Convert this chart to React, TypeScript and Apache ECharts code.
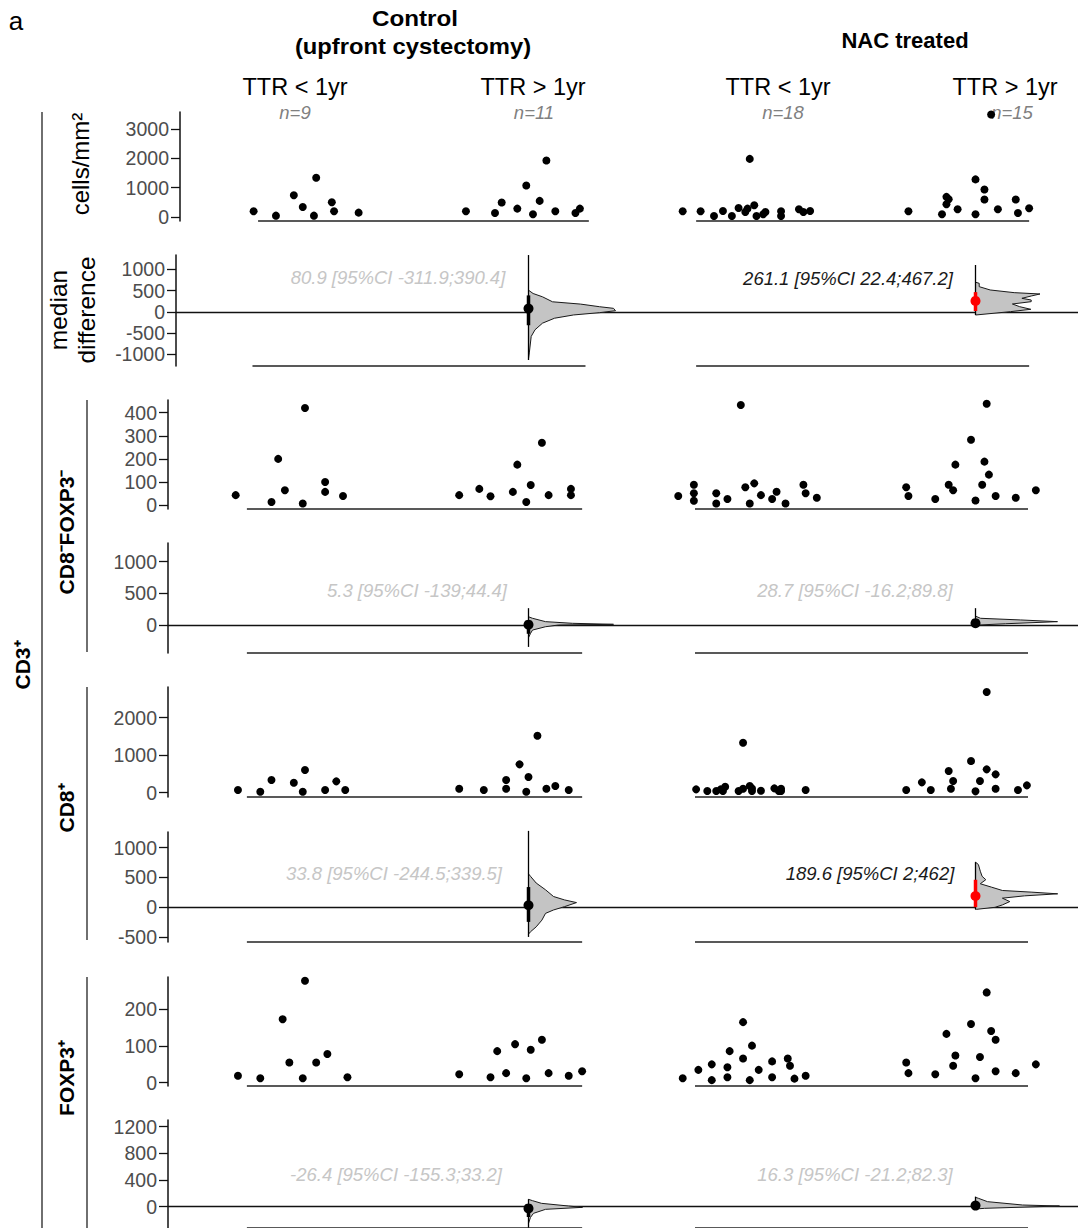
import React, { useEffect, useRef } from "react";
import * as echarts from "echarts";

const FONT = "'Liberation Sans', Arial, Helvetica, sans-serif";

// ---------- DATA ----------
const groupLabels = ["TTR < 1yr", "TTR > 1yr", "TTR < 1yr", "TTR > 1yr"];
const groupCounts = [9, 11, 18, 15];
const panelNames = ["CD8⁻FOXP3⁻", "CD8⁺", "FOXP3⁺"];

// CD3+ cells/mm2 (groups: control <1yr, control >1yr, NAC <1yr, NAC >1yr)
const cd3Values = [
  [195, 46, 744, 344, 46, 1340, 504, 195, 149],
  [195, 137, 492, 286, 1076, 92, 550, 1924, 195, 137, 286],
  [195, 195, 34, 206, 34, 309, 172, 286, 401, 34, 172, 92, 195, 34, 263, 172, 206, 1981],
  [195, 92, 687, 607, 435, 263, 1282, 92, 939, 595, 263, 595, 137, 298, 3492],
];
const cd3Jitter = [
  [-0.23, -0.13, -0.05, -0.01, 0.04, 0.05, 0.12, 0.13, 0.24],
  [-0.28, -0.15, -0.12, -0.05, -0.01, 0.02, 0.05, 0.08, 0.12, 0.21, 0.23],
  [-0.31, -0.23, -0.17, -0.13, -0.09, -0.06, -0.03, -0.02, 0.01, 0.02, 0.06, 0.05, 0.13, 0.13, 0.21, 0.23, 0.26, -0.01],
  [-0.3, -0.15, -0.13, -0.12, -0.13, -0.08, 0.0, 0.0, 0.04, 0.04, 0.1, 0.18, 0.19, 0.24, 0.07],
];

// CD8-FOXP3-
const cd8nfnValues = [
  [43, 13, 200, 64, 7, 420, 100, 57, 39],
  [43, 70, 38, 57, 175, 13, 87, 270, 43, 70, 43],
  [39, 88, 51, 19, 51, 7, 26, 433, 77, 7, 94, 43, 26, 58, 7, 88, 51, 32],
  [77, 39, 26, 88, 64, 175, 283, 20, 88, 188, 439, 132, 39, 32, 64],
];
const cd8nfnJitter = [
  [-0.31, -0.15, -0.12, -0.09, -0.01, 0.0, 0.09, 0.09, 0.17],
  [-0.31, -0.22, -0.17, -0.07, -0.05, -0.01, 0.01, 0.06, 0.09, 0.19, 0.19],
  [-0.33, -0.26, -0.26, -0.26, -0.16, -0.16, -0.11, -0.05, -0.03, -0.01, 0.01, 0.04, 0.09, 0.11, 0.15, 0.23, 0.24, 0.29],
  [-0.31, -0.3, -0.18, -0.12, -0.1, -0.09, -0.02, 0.0, 0.03, 0.04, 0.05, 0.06, 0.09, 0.18, 0.27],
];

// CD8+
const cd8Values = [
  [71, 27, 338, 267, 27, 604, 71, 302, 71],
  [107, 71, 107, 338, 756, 27, 418, 1520, 107, 178, 71],
  [89, 44, 44, 89, 44, 160, 44, 107, 178, 44, 116, 53, 116, 44, 44, 107, 71, 1333],
  [71, 276, 71, 578, 311, 107, 844, 36, 311, 622, 489, 107, 71, 196, 2684],
];
const cd8Jitter = [
  [-0.3, -0.2, -0.15, -0.05, -0.01, 0.0, 0.09, 0.14, 0.18],
  [-0.31, -0.2, -0.1, -0.1, -0.04, -0.01, 0.0, 0.04, 0.08, 0.12, 0.18],
  [-0.25, -0.2, -0.16, -0.14, -0.13, -0.12, -0.06, -0.04, -0.01, 0.0, 0.0, 0.04, 0.1, 0.12, 0.13, 0.13, 0.24, -0.04],
  [-0.31, -0.24, -0.2, -0.12, -0.1, -0.11, -0.02, 0.0, 0.02, 0.05, 0.09, 0.09, 0.19, 0.23, 0.05],
];

// FOXP3+
const foxp3Values = [
  [19, 12, 173, 55, 12, 278, 55, 78, 15],
  [23, 15, 86, 26, 105, 12, 90, 117, 26, 19, 31],
  [12, 35, 7, 50, 42, 15, 86, 165, 66, 7, 101, 35, 58, 15, 66, 46, 11, 19],
  [55, 26, 23, 133, 74, 46, 160, 12, 70, 141, 117, 31, 246, 26, 50],
];
const foxp3Jitter = [
  [-0.3, -0.2, -0.1, -0.07, -0.01, 0.0, 0.05, 0.1, 0.19],
  [-0.31, -0.17, -0.14, -0.1, -0.06, -0.01, 0.01, 0.06, 0.09, 0.18, 0.24],
  [-0.31, -0.24, -0.18, -0.18, -0.11, -0.11, -0.1, -0.04, -0.04, -0.01, 0.0, 0.03, 0.09, 0.09, 0.16, 0.17, 0.19, 0.24],
  [-0.31, -0.3, -0.18, -0.13, -0.09, -0.1, -0.02, 0.0, 0.02, 0.07, 0.09, 0.09, 0.05, 0.18, 0.27],
];

// median differences (TTR>1yr vs TTR<1yr): [control, NAC]
const diffMedian = [[80.9, 261.1], [5.3, 28.7], [33.8, 189.6], [-26.4, 16.3]];
const diffLow = [[-311.9, 22.4], [-139, -16.2], [-244.5, 2], [-155.3, -21.2]];
const diffHigh = [[390.4, 467.2], [44.4, 89.8], [339.5, 462], [33.2, 82.3]];
const diffSignificant = [[false, true], [false, false], [false, true], [false, false]];
const bootTop = [[1340, 1106], [266, 266], [1282, 757], [110, 150]];
const bootBottom = [[-1130, -71], [-346, -27], [-497, -34], [-320, -30]];

// bootstrap density profiles: [difference value, relative density]
const cd3CtrlDensity = [[513, 0], [435, 4.6], [357, 14], [240, 24], [186, 52], [124, 71], [86, 85], [30, 87], [-16, 71], [-70, 45], [-147, 26], [-263, 14], [-419, 6.5], [-575, 2.7], [-963, 0.8], [-1100, 0]];
const cd3NacDensity = [[700, 0], [675, 3.7], [596, 3.7], [518, 14.7], [455, 38.7], [424, 64.5], [376, 55.7], [322, 46.4], [282, 55.7], [243, 55.7], [188, 36.9], [125, 44.2], [63, 55.3], [8, 35], [-71, 0]];
const cd8nfnCtrlDensity = [[130, 0], [106, 4], [53, 17], [27, 44], [11, 85], [0, 30], [-27, 17], [-80, 4], [-133, 2], [-200, 0]];
const cd8nfnNacDensity = [[140, 0], [106, 5], [80, 45], [53, 82], [20, 30], [0, 3], [-10, 0]];
const cd8CtrlDensity = [[560, 0], [520, 2], [407, 7.7], [294, 17], [181, 25], [124, 36], [79, 48], [11, 36], [-45, 25], [-102, 17], [-215, 13.4], [-328, 7.7], [-412, 1.9], [-450, 0]];
const cd8NacDensity = [[757, 0], [717, 2.9], [605, 4.8], [520, 6.6], [463, 10.3], [395, 4.8], [339, 15.8], [282, 26.9], [254, 56.4], [226, 82.2], [192, 49], [153, 26.9], [96, 34.3], [40, 26.9], [0, 19.5], [-34, 1.1]];
const foxp3CtrlDensity = [[110, 0], [90, 4], [50, 13], [10, 40], [-10, 54], [-40, 17], [-100, 5], [-160, 2], [-250, 0]];
const foxp3NacDensity = [[140, 0], [125, 3], [75, 12], [25, 47], [10, 84], [-25, 9], [-35, 0]];

const scatterTicks = [[0, 1000, 2000, 3000], [0, 100, 200, 300, 400], [0, 1000, 2000], [0, 100, 200]];
const diffTicks = [[-1000, -500, 0, 500, 1000], [0, 500, 1000], [-500, 0, 500, 1000], [0, 400, 800, 1200]];

// ---------- LAYOUT ----------
const PAGE_W = 1078;
const PAGE_H = 1228;
const CENTER0 = 305; // px of first group centre
const STEP = 223.5; // px between group centres
const DENSITY_SCALE = 1 / STEP; // relative density -> group units
const VIOLIN_POS = [1, 3];
const TICK_LEN = 9;

const scatterLayout = [
  { left: 180, top: 112, bottom: 221, min: -136, max: 3580 },
  { left: 168, top: 400, bottom: 509, min: -17, max: 455 },
  { left: 168, top: 687, bottom: 797, min: -115, max: 2819 },
  { left: 168, top: 977, bottom: 1086, min: -9, max: 288 },
];
const diffLayout = [
  { left: 176, top: 255, bottom: 366, min: -1271, max: 1341 },
  { left: 168, top: 543, bottom: 653, min: -442, max: 1295 },
  { left: 168, top: 832, bottom: 942, min: -582, max: 1263 },
  { left: 168, top: 1120, bottom: 1228, min: -320, max: 1300 },
];
const scatterSpans = [
  [[-0.21, 1.27], [1.75, 3.24]],
  [[-0.26, 1.24], [1.745, 3.235]],
  [[-0.26, 1.24], [1.745, 3.235]],
  [[-0.26, 1.24], [1.745, 3.235]],
];
const diffSpans = [
  [[-0.235, 1.255], [1.75, 3.24]],
  [[-0.26, 1.24], [1.745, 3.235]],
  [[-0.26, 1.24], [1.745, 3.235]],
  [[-0.26, 1.24], [1.745, 3.235]],
];
const diffTextPos = [
  [[398, 277], [848, 278]],
  [[417, 590], [855, 590]],
  [[394, 873], [870, 873]],
  [[396, 1174], [855, 1174]],
];

const scatterValues = [cd3Values, cd8nfnValues, cd8Values, foxp3Values];
const scatterJitter = [cd3Jitter, cd8nfnJitter, cd8Jitter, foxp3Jitter];
const densities = [
  [cd3CtrlDensity, cd3NacDensity],
  [cd8nfnCtrlDensity, cd8nfnNacDensity],
  [cd8CtrlDensity, cd8NacDensity],
  [foxp3CtrlDensity, foxp3NacDensity],
];

function buildOption() {
  const grid: any[] = [];
  const xAxis: any[] = [];
  const yAxis: any[] = [];
  const series: any[] = [];
  const graphic: any[] = [];

  const addGrid = (lay: any, ticks: number[], isDiff: boolean) => {
    const idx = grid.length;
    grid.push({ left: lay.left, right: 0, top: lay.top, height: lay.bottom - lay.top, containLabel: false });
    xAxis.push({
      gridIndex: idx,
      type: "value",
      min: (lay.left - CENTER0) / STEP,
      max: (PAGE_W - CENTER0) / STEP,
      show: isDiff,
      axisLine: { show: isDiff, onZero: true, lineStyle: { color: "#111", width: 1.3 } },
      axisTick: { show: false },
      axisLabel: { show: false },
      splitLine: { show: false },
    });
    yAxis.push({
      gridIndex: idx,
      type: "value",
      min: lay.min,
      max: lay.max,
      axisLine: { show: true, onZero: false, lineStyle: { color: "#111", width: 1.5 } },
      axisTick: { show: true, length: TICK_LEN, customValues: ticks, lineStyle: { color: "#111", width: 1.3 } },
      axisLabel: {
        customValues: ticks,
        fontSize: 19.5,
        color: "#4d4d4d",
        fontFamily: FONT,
        margin: TICK_LEN + 2,
        formatter: (v: number) => String(v),
      },
      splitLine: { show: false },
    });
    return idx;
  };

  const addSpans = (idx: number, spans: number[][], y: number) => {
    spans.forEach((s) => {
      series.push({
        type: "line",
        xAxisIndex: idx,
        yAxisIndex: idx,
        data: [[s[0], y], [s[1], y]],
        symbol: "none",
        clip: false,
        silent: true,
        lineStyle: { color: "#222", width: 1.6 },
      });
    });
  };

  for (let p = 0; p < 4; p++) {
    // scatter panel
    const sl = scatterLayout[p];
    const si = addGrid(sl, scatterTicks[p], false);
    const pts: number[][] = [];
    scatterValues[p].forEach((vals, g) => {
      vals.forEach((v, k) => pts.push([g + scatterJitter[p][g][k], v]));
    });
    series.push({
      type: "scatter",
      xAxisIndex: si,
      yAxisIndex: si,
      data: pts,
      symbolSize: 8,
      itemStyle: { color: "#000", opacity: 1 },
      silent: true,
      clip: false,
    });
    addSpans(si, scatterSpans[p], sl.min);

    // difference panel
    const dl = diffLayout[p];
    const di = addGrid(dl, diffTicks[p], true);
    addSpans(di, diffSpans[p], dl.min);
    const pp = p;
    series.push({
      type: "custom",
      xAxisIndex: di,
      yAxisIndex: di,
      clip: false,
      silent: true,
      data: VIOLIN_POS.map((pos, k) => [pos, diffMedian[pp][k]]),
      encode: { x: 0, y: 1 },
      renderItem: (params: any, api: any) => {
        const k = params.dataIndex;
        const pos = api.value(0);
        const prof = densities[pp][k];
        const poly: number[][] = [api.coord([pos, prof[0][0]])];
        prof.forEach(([v, d]) => poly.push(api.coord([pos + d * DENSITY_SCALE, v])));
        poly.push(api.coord([pos, prof[prof.length - 1][0]]));
        const top = api.coord([pos, bootTop[pp][k]]);
        const bot = api.coord([pos, bootBottom[pp][k]]);
        const lo = api.coord([pos, diffLow[pp][k]]);
        const hi = api.coord([pos, diffHigh[pp][k]]);
        const med = api.coord([pos, api.value(1)]);
        const col = diffSignificant[pp][k] ? "#ff0000" : "#000000";
        return {
          type: "group",
          children: [
            { type: "polygon", shape: { points: poly }, style: { fill: "#c4c4c4", stroke: "#1a1a1a", lineWidth: 1 } },
            { type: "line", shape: { x1: top[0], y1: top[1], x2: bot[0], y2: bot[1] }, style: { stroke: "#000", lineWidth: 1.3 } },
            { type: "line", shape: { x1: lo[0], y1: lo[1], x2: hi[0], y2: hi[1] }, style: { stroke: col, lineWidth: 3.5 } },
            { type: "circle", shape: { cx: med[0], cy: med[1], r: 5 }, style: { fill: col } },
          ],
        };
      },
    });

    // median difference labels
    [0, 1].forEach((k) => {
      const [tx, ty] = diffTextPos[p][k];
      graphic.push({
        type: "text",
        x: tx,
        y: ty,
        silent: true,
        style: {
          text: `${diffMedian[p][k]} [95%CI ${diffLow[p][k]};${diffHigh[p][k]}]`,
          fontSize: 18.5,
          fontStyle: "italic",
          fontFamily: FONT,
          fill: diffSignificant[p][k] ? "#1a1a1a" : "#c6c6c6",
          align: "center",
          verticalAlign: "middle",
        },
      });
    });
  }

  // headers
  const txt = (text: string, x: number, y: number, extra: any = {}, el: any = {}) =>
    graphic.push({
      type: "text",
      x,
      y,
      silent: true,
      ...el,
      style: { text, fontFamily: FONT, fill: "#000", align: "center", verticalAlign: "middle", ...extra },
    });

  txt("a", 16, 21, { fontSize: 26 });
  txt("Control", 415, 18, { fontSize: 22, fontWeight: "bold" }, { scaleX: 1.1 });
  txt("(upfront cystectomy)", 413, 46, { fontSize: 22, fontWeight: "bold" }, { scaleX: 1.08 });
  txt("NAC treated", 905, 40, { fontSize: 22, fontWeight: "bold" });
  const ttrX = [295, 533, 778, 1005];
  const nX = [295, 534, 783, 1012];
  groupLabels.forEach((g, i) => txt(g, ttrX[i], 87, { fontSize: 23.5 }));
  groupCounts.forEach((n, i) => txt(`n=${n}`, nX[i], 112, { fontSize: 18.5, fontStyle: "italic", fill: "#808080" }));

  // y titles
  txt("cells/mm²", 80, 164, { fontSize: 24 }, { rotation: Math.PI / 2 });
  txt("median\ndifference", 72, 310, { fontSize: 24.5, lineHeight: 28 }, { rotation: Math.PI / 2 });
  txt("CD3⁺", 22, 665, { fontSize: 21, fontWeight: "bold" }, { rotation: Math.PI / 2 });
  const nameY = [532, 808, 1078];
  panelNames.forEach((nm, i) => txt(nm, 66, nameY[i], { fontSize: 21, fontWeight: "bold" }, { rotation: Math.PI / 2 }));

  // brackets
  const vline = (x: number, y1: number, y2: number) =>
    graphic.push({ type: "line", silent: true, shape: { x1: x, y1, x2: x, y2 }, style: { stroke: "#222", lineWidth: 1.3 } });
  vline(42, 112, PAGE_H);
  vline(87, 400, 652);
  vline(87, 687, 940);
  vline(87, 977, PAGE_H);

  return {
    animation: false,
    backgroundColor: "#fff",
    grid,
    xAxis,
    yAxis,
    series,
    graphic,
  };
}

export default function App() {
  const ref = useRef<HTMLDivElement>(null);
  useEffect(() => {
    if (!ref.current) return;
    const chart = echarts.init(ref.current, null, { renderer: "svg" });
    chart.setOption(buildOption() as any);
    return () => chart.dispose();
  }, []);
  return (
    <div
      ref={ref}
      style={{ position: "absolute", left: 0, top: 0, width: PAGE_W, height: PAGE_H, background: "#fff" }}
    />
  );
}
